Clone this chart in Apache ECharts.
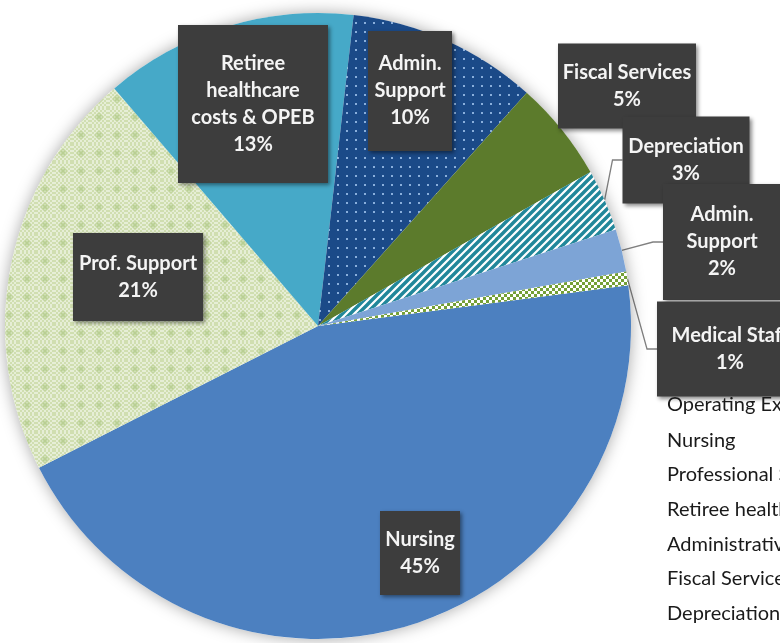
<!DOCTYPE html>
<html>
<head>
<meta charset="utf-8">
<script src="https://cdn.jsdelivr.net/npm/echarts@6/dist/echarts.min.js"></script>
<style>
  html, body { margin: 0; padding: 0; background: #fff; }
  #chart { width: 780px; height: 643px; }
</style>
</head>
<body>
<div id="chart"></div>
<script>
// slices, clockwise from the right
const names = ['Nursing', 'Professional Support', 'Retiree healthcare costs & OPEB', 'Administrative Support',
  'Fiscal Services', 'Depreciation', 'Administrative Services', 'Medical Staff'];
const shortNames = ['Nursing', 'Prof. Support', 'Retiree\nhealthcare\ncosts & OPEB', 'Admin.\nSupport',
  'Fiscal Services', 'Depreciation', 'Admin.\nSupport', 'Medical Staff'];
const values = [44.6, 21.2, 13.1, 9.8, 5.2, 3.2, 2.2, 0.7];
const legendTitle = 'Operating Expenses';

// label box centres and sizes (layout only)
const labelPos = [[420, 553], [138, 277], [253, 104], [410, 91], [627, 86], [686, 160], [722, 242], [730, 349]];
const boxSize = [[80, 57], [130, 61], [150, 131], [84, 93], [138, 58], [127, 60], [118, 89], [146, 68]];
const withLine = [false, false, false, false, false, true, true, true];

function pattern(size, draw) {
  const c = document.createElement('canvas');
  c.width = c.height = size;
  draw(c.getContext('2d'), size);
  return { image: c, repeat: 'repeat' };
}

const greenCheck = pattern(18, (ctx, s) => {
  ctx.fillStyle = '#e6eed6';
  ctx.fillRect(0, 0, s, s);
  ctx.fillStyle = '#d0deb0';
  for (let i = 0; i < s; i += 2)
    for (let j = 0; j < s; j += 2)
      if (((i + j) / 2) % 2 === 0) ctx.fillRect(i, j, 2, 2);
  ctx.fillStyle = 'rgba(170,198,125,0.35)';
  ctx.fillRect(5, 7, 8, 4);
  ctx.fillRect(7, 5, 4, 8);
});

const navyDots = pattern(9, (ctx, s) => {
  ctx.fillStyle = '#1b4a88';
  ctx.fillRect(0, 0, s, s);
  ctx.fillStyle = '#8aafdc';
  ctx.fillRect(4, 4, 2, 2);
});

const tealStripes = pattern(8, (ctx, s) => {
  ctx.fillStyle = '#ffffff';
  ctx.fillRect(0, 0, s, s);
  ctx.strokeStyle = '#21879a';
  ctx.lineWidth = 3.4;
  ctx.beginPath();
  ctx.moveTo(-2, s + 2); ctx.lineTo(s + 2, -2);
  ctx.moveTo(-2, 2); ctx.lineTo(2, -2);
  ctx.moveTo(s - 2, s + 2); ctx.lineTo(s + 2, s - 2);
  ctx.stroke();
});

const greenWhite = pattern(6, (ctx, s) => {
  ctx.fillStyle = '#ffffff';
  ctx.fillRect(0, 0, s, s);
  ctx.fillStyle = '#74a036';
  ctx.fillRect(0, 0, 3, 3);
  ctx.fillRect(3, 3, 3, 3);
});

const fills = ['#4c80c0', greenCheck, '#46a9c8', navyDots, '#5c7b2c', tealStripes, '#7da4d6', greenWhite];

const data = values.map((v, i) => ({
  name: names[i],
  value: v,
  itemStyle: { color: fills[i] },
  label: {
    width: boxSize[i][0] - 8,
    padding: [(boxSize[i][1] - shortNames[i].split('\n').length * 27) / 2, 4]
  },
  labelLine: { show: withLine[i] }
}));

const chart = echarts.init(document.getElementById('chart'));
chart.setOption({
  animation: false,
  title: {
    text: legendTitle,
    left: 662,
    top: 390,
    textStyle: { fontFamily: 'Lato', fontSize: 20, fontWeight: 'normal', color: '#1a1a1a' }
  },
  legend: {
    data: names,
    orient: 'vertical',
    left: 662,
    top: 418,
    itemWidth: 0,
    itemHeight: 0,
    itemGap: 0,
    icon: 'rect',
    selectedMode: false,
    textStyle: { fontFamily: 'Lato', fontSize: 20, color: '#1a1a1a', lineHeight: 34.6, padding: [0, 0, 0, -5] }
  },
  series: [
    {
      // soft shadow behind the pie
      type: 'pie',
      silent: true,
      center: [318, 326],
      radius: 313,
      label: { show: false },
      labelLine: { show: false },
      itemStyle: { color: '#fff', shadowBlur: 16, shadowColor: 'rgba(0,0,0,0.35)' },
      data: [{ value: 1, name: '' }]
    },
    {
      type: 'pie',
      center: [318, 326],
      radius: 313,
      startAngle: 7.5,
      clockwise: true,
      avoidLabelOverlap: false,
      data: data,
      label: {
        show: true,
        position: 'outside',
        formatter: p => shortNames[p.dataIndex] + '\n' + Math.round(p.percent) + '%',
        fontFamily: 'Lato',
        fontWeight: 'bold',
        fontSize: 20,
        lineHeight: 27,
        overflow: 'none',
        color: '#f4f4f4',
        align: 'center',
        backgroundColor: '#3d3d3d',
        shadowBlur: 4,
        shadowOffsetX: 2,
        shadowOffsetY: 2,
        shadowColor: 'rgba(0,0,0,0.45)'
      },
      labelLine: {
        lineStyle: { color: '#808080', width: 1.3 },
        length: 15,
        length2: 10
      },
      labelLayout: function (params) {
        const p = labelPos[params.dataIndex];
        return { x: p[0], y: p[1], align: 'center', verticalAlign: 'middle' };
      }
    }
  ]
});
</script>
</body>
</html>
